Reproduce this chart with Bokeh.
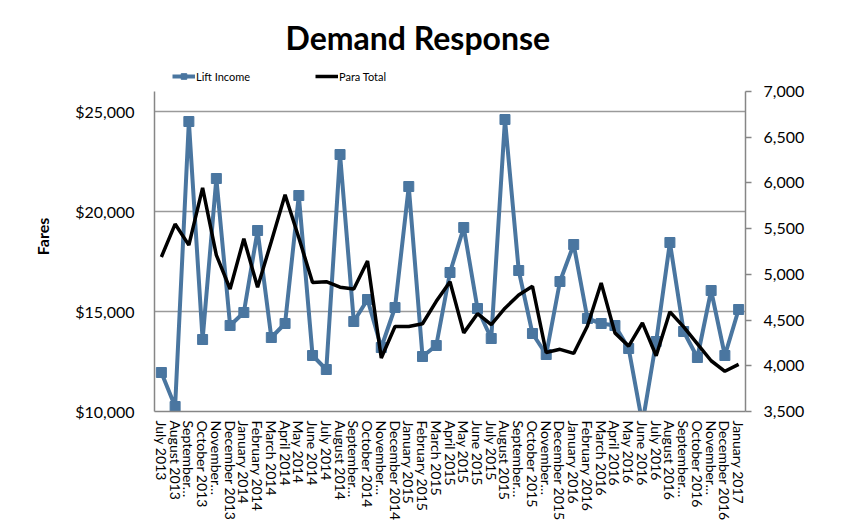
from bokeh.plotting import figure
from bokeh.models import (Range1d, LinearAxis, FixedTicker, SingleIntervalTicker,
                          NumeralTickFormatter, Legend, LegendItem)
from bokeh.embed import file_html
from bokeh.resources import INLINE

months = ["July 2013", "August 2013", "September…", "October 2013", "November…",
          "December 2013", "January 2014", "February 2014", "March 2014", "April 2014",
          "May 2014", "June 2014", "July 2014", "August 2014", "September…",
          "October 2014", "November…", "December 2014", "January 2015", "February 2015",
          "March 2015", "April 2015", "May 2015", "June 2015", "July 2015",
          "August 2015", "September…", "October 2015", "November…", "December 2015",
          "January 2016", "February 2016", "March 2016", "April 2016", "May 2016",
          "June 2016", "July 2016", "August 2016", "September…", "October 2016",
          "November…", "December 2016", "January 2017"]

lift_income = [11950, 10250, 24500, 13600, 21650, 14300, 14950, 19050, 13700, 14400,
               20800, 12800, 12100, 22850, 14500, 15600, 13200, 15200, 21250, 12750,
               13300, 16950, 19200, 15150, 13650, 24600, 17050, 13900, 12850, 16500,
               18350, 14650, 14400, 14300, 13150, 9400, 13500, 18450, 14000, 12700,
               16050, 12800, 15100]

para_total = [5190, 5550, 5320, 5945, 5210, 4840, 5390, 4860, 5360, 5870,
              5400, 4910, 4920, 4860, 4840, 5145, 4085, 4430, 4430, 4460,
              4705, 4920, 4360, 4570, 4450, 4630, 4775, 4870, 4145, 4180,
              4135, 4435, 4905, 4360, 4215, 4470, 4110, 4590, 4425, 4240,
              4055, 3940, 4015]

left_ticks = [10000, 15000, 20000, 25000]
left_bounds = (10000, 26000)
right_bounds = (3500, 7000)

x = list(range(len(months)))
FONT = "Lato"
AXIS_COLOR = "#868686"
BLUE = "#4A76A0"

# frame extends above the axes' top so the legend can sit inside it
extra = 1500
left_top = left_bounds[1] + extra
right_top = right_bounds[1] + (right_bounds[1] - right_bounds[0]) * extra / (left_bounds[1] - left_bounds[0])

p = figure(width=857, height=523, output_backend="svg", toolbar_location=None,
           title="Demand Response",
           x_range=Range1d(-0.5, len(months) - 0.5), y_range=Range1d(left_bounds[0], left_top),
           min_border_left=154, min_border_right=112, min_border_top=61, min_border_bottom=109)
p.extra_y_ranges = {"para": Range1d(right_bounds[0], right_top)}
p.outline_line_color = None

p.title.align = "left"
p.title.offset = 131
p.title.text_font = FONT
p.title.text_font_style = "bold"
p.title.text_font_size = "32px"
p.title.text_color = "black"
p.title.standoff = 10

# left axis
ya = p.yaxis[0]
ya.bounds = left_bounds
ya.ticker = FixedTicker(ticks=left_ticks)
ya.formatter = NumeralTickFormatter(format="$0,0")
ya.axis_label = "Fares"
ya.axis_label_text_font = FONT
ya.axis_label_text_font_style = "bold"
ya.axis_label_text_font_size = "16px"
ya.axis_label_text_color = "#000000"
ya.axis_label_standoff = 20
ya.major_label_text_font = FONT
ya.major_label_text_font_size = "16px"
ya.major_label_text_color = "#000000"
ya.major_label_standoff = 14
ya.axis_line_color = AXIS_COLOR
ya.axis_line_width = 1.5
ya.major_tick_line_color = None
ya.minor_tick_line_color = None

p.ygrid.ticker = FixedTicker(ticks=left_ticks)
p.ygrid.grid_line_color = "#9a9a9a"
p.ygrid.grid_line_width = 1.5
p.xgrid.grid_line_color = None

# right axis
ra = LinearAxis(y_range_name="para", ticker=SingleIntervalTicker(interval=500),
                formatter=NumeralTickFormatter(format="0,0"), bounds=right_bounds)
ra.major_label_text_font = FONT
ra.major_label_text_font_size = "16px"
ra.major_label_text_color = "#000000"
ra.major_label_standoff = 12
ra.axis_line_color = AXIS_COLOR
ra.axis_line_width = 1.5
ra.major_tick_line_color = AXIS_COLOR
ra.major_tick_line_width = 1.5
ra.major_tick_in = 0
ra.major_tick_out = 6
ra.minor_tick_line_color = None
p.add_layout(ra, "right")

# x axis
xa = p.xaxis[0]
xa.ticker = FixedTicker(ticks=x)
xa.major_label_overrides = {i: m for i, m in enumerate(months)}
xa.major_label_orientation = "vertical"
xa.major_label_text_font = FONT
xa.major_label_text_font_size = "14px"
xa.major_label_text_color = "#000000"
xa.major_label_standoff = 3
xa.axis_line_color = AXIS_COLOR
xa.axis_line_width = 1.5
xa.major_tick_line_color = None
xa.minor_tick_line_color = None

# series
r_lift = p.line(x, lift_income, line_color=BLUE, line_width=4)
r_lift_m = p.scatter(x, lift_income, marker="square", size=10, fill_color=BLUE,
                     line_color=BLUE)
r_para = p.line(x, para_total, line_color="black", line_width=3.5, y_range_name="para")

legend = Legend(items=[LegendItem(label="Lift Income", renderers=[r_lift, r_lift_m]),
                       LegendItem(label="Para Total", renderers=[r_para])],
                orientation="horizontal", location=(18, 328),
                label_text_font=FONT, label_text_font_size="11px",
                label_text_color="#000000",
                glyph_width=23, glyph_height=14, label_height=14, label_standoff=1,
                spacing=65, padding=0, margin=0, border_line_color=None,
                background_fill_alpha=0)
p.add_layout(legend)

open("out.html", "w").write(file_html(p, INLINE))
